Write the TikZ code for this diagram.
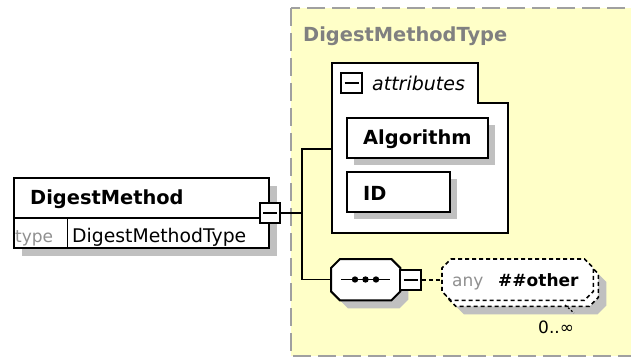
\documentclass[tikz,border=0pt]{standalone}
\usepackage{fontspec}
\setmainfont{DejaVu Sans}
\usetikzlibrary{calc}
\definecolor{bgyellow}{HTML}{FFFFC8}
\definecolor{shadowgray}{HTML}{C0C0C0}
\definecolor{framegray}{HTML}{A0A0A0}
\definecolor{titlegray}{HTML}{808080}
\definecolor{anygray}{HTML}{909090}

% octagon through the corners of a named node, chamfer #2, shifted by (#3,#4)
\newcommand\octo[4]{($(#1.north west)+(#2+#3,#4)$) -- ($(#1.north east)+(-#2+#3,#4)$) -- ($(#1.north east)+(#3,#2+#4)$) -- ($(#1.south east)+(#3,-#2+#4)$) -- ($(#1.south east)+(-#2+#3,#4)$) -- ($(#1.south west)+(#2+#3,#4)$) -- ($(#1.south west)+(#3,-#2+#4)$) -- ($(#1.north west)+(#3,#2+#4)$) -- cycle}

\begin{document}
\begin{tikzpicture}[x=1pt,y=-1pt,
  box/.style={draw=black, line width=2pt, fill=white, rectangle, inner sep=0pt, anchor=north west},
  shade/.style={fill=shadowgray},
  minusbox/.style={draw=black, line width=1.6pt, fill=white, rectangle, inner sep=0pt, minimum width=20pt, minimum height=20pt},
  label/.style={inner sep=0pt, anchor=base west},
  bold19/.style={font=\bfseries\fontsize{19.4}{22}\selectfont},
  reg19/.style={font=\fontsize{18.8}{22}\selectfont},
  it19/.style={font=\itshape\fontsize{19}{22}\selectfont},
  small17/.style={font=\fontsize{17}{20}\selectfont},
  bold17/.style={font=\bfseries\fontsize{17}{20}\selectfont},
  wire/.style={draw=black, line width=1.6pt},
  anydash/.style={dash pattern=on 4pt off 3pt, line width=1.6pt}]
\useasboundingbox (0,0) rectangle (631,358);
\clip (0,0) rectangle (631,358);
\fill[white] (0,0) rectangle (631,358);

% complex type frame
\draw[framegray, line width=2pt, dash pattern=on 18pt off 7pt, fill=bgyellow] (291,8) rectangle (660,356);
\node[label, bold19, text=titlegray] (title) at (303,42) {DigestMethodType};

% element DigestMethod
\fill[shade] (22,186) rectangle (277,256);
\node[box, minimum width=255pt, minimum height=40pt] (elem) at (13,177) {};
\node[box, minimum width=255pt, minimum height=30pt] (elemtype) at (13,217) {};
\draw[line width=1pt] (67,217) -- (67,247);
\node[label, bold19] (elemname) at (30,204.5) {DigestMethod};
\node[label, small17, text=anygray] (typekey) at (15,242.5) {type};
\node[label, reg19] (typeval) at (72,242.5) {DigestMethodType};
\node[minusbox] (mb) at (270,213) {};
\draw[line width=1.6pt] ($(mb.center)+(-7,0)$) -- ($(mb.center)+(7,0)$);

% attributes group
\draw[line width=2pt, fill=white] (332,63) -- (478,63) -- (478,103) -- (508,103) -- (508,233) -- (332,233) -- cycle;
\coordinate (attrhook) at (332,149);
\node[minusbox, minimum width=21pt] (amb) at (351.5,83) {};
\draw[line width=1.6pt] ($(amb.center)+(-7,0)$) -- ($(amb.center)+(7,0)$);
\node[label, it19] (attrlabel) at (372,91) {attributes};

\fill[shade] (354,125) rectangle (495,165);
\node[box, minimum width=141pt, minimum height=40pt] (algo) at (346,117) {};
\node[label, bold19] (algotext) at (363,145) {Algorithm};
\fill[shade] (354,179) rectangle (457,219);
\node[box, minimum width=103pt, minimum height=40pt] (idbox) at (346,171) {};
\node[label, bold19] (idtext) at (363,200) {ID};

% sequence compositor
\node[draw=none, rectangle, inner sep=0pt, minimum width=69pt, minimum height=41pt, anchor=north west] (seq) at (331,259) {};
\fill[shade] \octo{seq}{9}{8}{8};
\draw[line width=2pt, fill=white] \octo{seq}{9}{0}{0};
\draw[line width=1.6pt] (341,279.5) -- (390,279.5);
\foreach \d in {355,365.5,376} \fill (\d,279.5) circle (3.2pt);
\node[minusbox, minimum width=21pt] (smb) at (410.5,280) {};
\draw[line width=1.6pt] ($(smb.center)+(-7,0)$) -- ($(smb.center)+(7,0)$);

% any wildcard, repeated
\node[draw=none, rectangle, inner sep=0pt, minimum width=151pt, minimum height=41pt, anchor=north west] (anyel) at (442,259) {};
\fill[shade] \octo{anyel}{9}{13}{14};
\draw[anydash, fill=white] \octo{anyel}{9}{5}{6};
\draw[anydash, fill=white] \octo{anyel}{9}{0}{0};
\node[label, small17, text=anygray] (anykey) at (452,286) {any};
\node[label, bold17] (anyval) at (498,286) {\#\#other};
\coordinate (tickA) at (565,305);
\coordinate (tickB) at (574,313);
\draw[line width=1.2pt, dash pattern=on 2pt off 2pt] (tickA) -- (tickB);
\node[label, small17] (occurs) at (538,333) {0..∞};

% connectors
\coordinate (busTop) at (302,149);
\coordinate (busBot) at (302,279.5);
\draw[wire] (mb.east) -- (mb.east -| busTop);
\draw[wire] (attrhook) -- (busTop) -- (busBot) -- (seq.west |- busBot);
\draw[wire, dash pattern=on 4pt off 3pt] (smb.east) -- (anyel.west |- smb.east);
\end{tikzpicture}
\end{document}
